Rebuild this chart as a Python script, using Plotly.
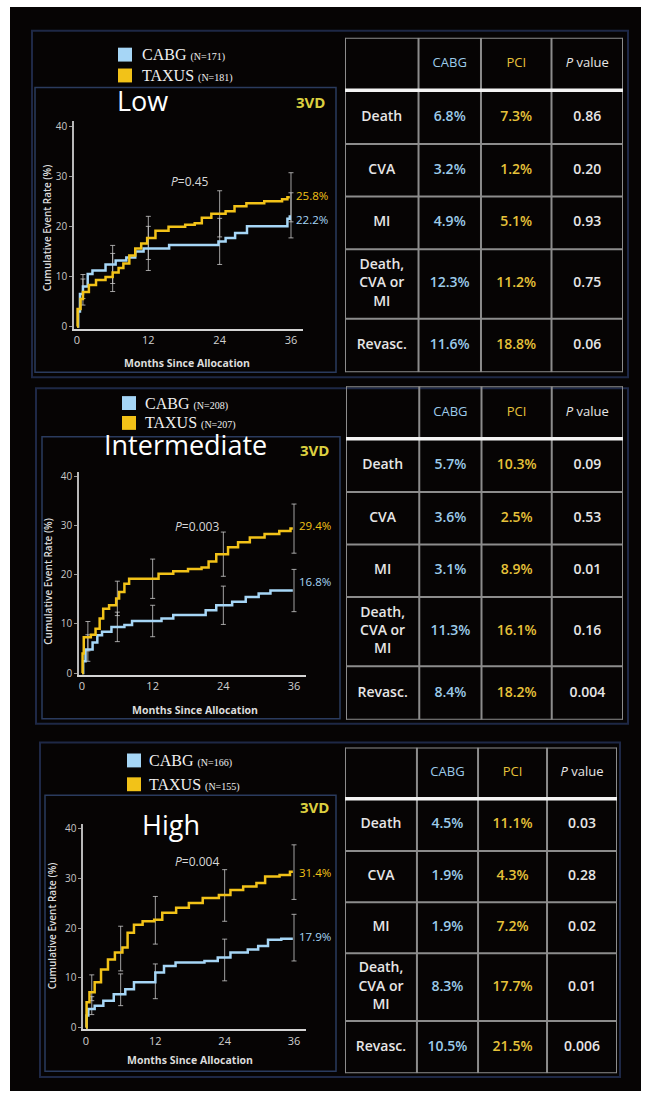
import plotly.graph_objects as go

W, H = 649, 1099

# ---------------- data ----------------
panel_names = ["Low", "Intermediate", "High"]
cabg_n = [171, 208, 166]
taxus_n = [181, 207, 155]
curve_p = ["0.45", "0.003", "0.004"]
x_ticks = [0, 12, 24, 36]
y_ticks = [0, 10, 20, 30, 40]

# Kaplan-Meier step points (months, cumulative event rate %)
low_cabg_m = [0, 0.2, 0.5, 1.0, 1.8, 2.6, 4.8, 6.5, 8.3, 9.8, 11.2, 15.5, 23.8, 25.0, 26.6, 28.6, 35.4, 35.8]
low_cabg_v = [0, 3.0, 6.5, 8.0, 10.5, 11.2, 12.4, 13.2, 13.8, 15.0, 15.6, 16.3, 17.0, 17.7, 18.7, 20.0, 21.5, 22.2]
low_taxus_m = [0, 0.1, 0.6, 1.0, 2.0, 3.2, 4.8, 6.0, 7.0, 7.8, 8.8, 9.8, 10.8, 11.8, 13.2, 15.4, 18.2,
               19.8, 21.0, 22.6, 25.0, 26.5, 28.5, 31.5, 34.5, 35.4, 35.8]
low_taxus_v = [0, 3.5, 5.5, 6.9, 8.3, 9.3, 9.9, 10.8, 11.7, 12.6, 14.2, 15.6, 16.6, 17.7, 19.1, 19.9, 20.3,
               20.6, 21.7, 22.5, 23.0, 24.0, 24.6, 25.0, 25.4, 25.8, 25.8]

int_cabg_m = [0, 0.2, 0.6, 1.8, 2.6, 3.4, 5.0, 7.2, 8.5, 13.5, 15.5, 21.0, 22.8, 25.5, 27.8, 30.0, 32.0, 35.8]
int_cabg_v = [0, 2.4, 4.8, 6.2, 7.7, 8.4, 9.4, 9.8, 10.6, 11.1, 11.8, 12.8, 13.8, 14.5, 15.5, 16.2, 16.8, 16.8]
int_taxus_m = [0, 0.1, 0.3, 1.5, 2.3, 3.0, 3.6, 4.6, 5.8, 6.3, 7.2, 8.0, 13.0, 15.5, 18.0, 20.3, 21.5,
               22.8, 24.8, 26.5, 28.5, 31.0, 33.5, 35.4, 35.8]
int_taxus_v = [0, 4.0, 7.3, 7.8, 9.0, 11.1, 13.1, 13.8, 15.2, 16.5, 18.2, 19.2, 20.2, 20.7, 21.2, 21.5, 22.7,
               24.2, 25.6, 26.6, 27.6, 28.3, 28.9, 29.4, 29.4]

high_cabg_m = [0, 0.1, 0.4, 1.5, 3.0, 4.8, 6.8, 8.3, 12.0, 13.5, 15.5, 20.5, 22.8, 25.0, 28.0, 29.8, 31.5,
               33.8, 35.8]
high_cabg_v = [0, 2.4, 3.7, 4.4, 5.4, 6.7, 7.7, 9.1, 11.1, 12.4, 13.1, 13.4, 14.1, 15.1, 15.7, 16.4, 17.7,
               17.9, 17.9]
high_taxus_m = [0, 0.1, 0.6, 1.5, 2.6, 3.8, 5.0, 6.3, 7.2, 8.3, 9.8, 11.8, 13.2, 15.6, 17.8, 20.2, 23.0,
                25.0, 27.2, 29.5, 31.0, 33.5, 35.3, 35.8]
high_taxus_v = [0, 5.1, 7.1, 9.1, 11.7, 13.7, 15.1, 16.1, 19.1, 20.7, 21.4, 21.7, 23.1, 24.1, 25.1, 26.1, 26.7,
                27.7, 28.4, 29.1, 30.4, 30.7, 31.4, 31.4]

# confidence intervals (centre, half-width) at these months
ci_months = [1, 6, 12, 24, 36]
low_cabg_ci = [8.0, 12.4, 15.6, 17.0, 22.2]
low_cabg_err = [2.4, 3.8, 4.4, 4.6, 4.5]
low_taxus_ci = [6.9, 10.8, 17.7, 22.5, 25.8]
low_taxus_err = [2.6, 3.8, 4.3, 4.6, 4.9]
int_cabg_ci = [5.1, 9.4, 10.6, 13.8, 16.8]
int_cabg_err = [2.7, 3.0, 3.2, 3.9, 4.3]
int_taxus_ci = [7.5, 15.2, 19.2, 24.2, 29.4]
int_taxus_err = [3.0, 3.5, 4.0, 4.5, 5.0]
high_cabg_ci = [4.4, 7.6, 9.3, 13.6, 18.1]
high_cabg_err = [1.8, 3.2, 3.5, 4.2, 4.7]
high_taxus_ci = [8.0, 15.9, 21.6, 26.6, 31.3]
high_taxus_err = [2.6, 4.5, 4.8, 5.2, 5.5]

cabg_final = [22.2, 16.8, 17.9]
taxus_final = [25.8, 29.4, 31.4]

# tables
table_header = ["", "CABG", "PCI", "<i>P</i> value"]
outcomes = ["Death", "CVA", "MI", "Death,<br>CVA or<br>MI", "Revasc."]
low_tab_cabg = [6.8, 3.2, 4.9, 12.3, 11.6]
low_tab_pci = [7.3, 1.2, 5.1, 11.2, 18.8]
low_tab_p = ["0.86", "0.20", "0.93", "0.75", "0.06"]
int_tab_cabg = [5.7, 3.6, 3.1, 11.3, 8.4]
int_tab_pci = [10.3, 2.5, 8.9, 16.1, 18.2]
int_tab_p = ["0.09", "0.53", "0.01", "0.16", "0.004"]
high_tab_cabg = [4.5, 1.9, 1.9, 8.3, 10.5]
high_tab_pci = [11.1, 4.3, 7.2, 17.7, 21.5]
high_tab_p = ["0.03", "0.28", "0.02", "0.01", "0.006"]

# ---------------- style / layout ----------------
BG = "#060404"
C_BLUE = "#a6d6f6"
C_GOLD = "#f2c218"
T_BLUE = "#9ccbea"
T_GOLD = "#e6c23a"
TXT = "#e6e6e6"
FONT = "Open Sans"

curves = [
    (low_cabg_m, low_cabg_v, low_taxus_m, low_taxus_v,
     low_cabg_ci, low_cabg_err, low_taxus_ci, low_taxus_err),
    (int_cabg_m, int_cabg_v, int_taxus_m, int_taxus_v,
     int_cabg_ci, int_cabg_err, int_taxus_ci, int_taxus_err),
    (high_cabg_m, high_cabg_v, high_taxus_m, high_taxus_v,
     high_cabg_ci, high_cabg_err, high_taxus_ci, high_taxus_err),
]
tables = [
    (low_tab_cabg, low_tab_pci, low_tab_p),
    (int_tab_cabg, int_tab_pci, int_tab_p),
    (high_tab_cabg, high_tab_pci, high_tab_p),
]

# pixel geometry: x of month 0, px per month, y of rate 0, px per unit
chart_geo = [(77, 5.944, 326, 5.05), (82, 5.889, 675, 4.95), (86, 5.778, 1032, 5.0)]
X_RANGE = [-0.5, 38]
Y_RANGE = [-0.4, 41]
ytitle_pos = [(47, 227), (48, 583), (52, 930)]
xtitle_pos = [(187, 363), (195, 712), (190, 1065)]
big_pos = [(142, 98), (185, 445), (171, 828)]
vd_pos = [(310, 100), (314, 450), (314, 810)]
legend_pos = [(125, 52, 73, 140), (129, 403, 423, 143), (134, 763, 787, 147)]
p_pos = [(19.0, 28.9), (19.5, 29.9), (19.2, 33.4)]
end_shift = [(2, -4), (3, 9), (-1, 2)]   # yshift px for (taxus, cabg) end labels
outer_frames = [(32, 28, 628, 377), (36, 388, 628, 726), (40, 745, 620, 1082)]
chart_boxes = [(35, 85, 336, 372), (42, 437, 340, 721), (45, 798, 336, 1076)]
table_boxes = [(345, 35, 623, 372), (346, 386, 623, 722), (345, 750, 617, 1078)]
col_w = [73, 62, 70, 71]
row_h = [53, 54, 53, 53, 70, 54]


def pxx(px):
    return px / W


def pxy(py):
    return 1 - py / H


def note(px, py, text, size, color, family=FONT, xanchor="center", angle=0, weight=None):
    f = dict(family=family, size=size, color=color)
    if weight:
        f["weight"] = weight
    return dict(x=pxx(px), y=pxy(py), xref="paper", yref="paper", showarrow=False,
                xanchor=xanchor, yanchor="middle", textangle=angle, text=text, font=f)


fig = go.Figure()
shapes = []
annotations = []
layout_axes = {}

shapes.append(dict(type="rect", xref="paper", yref="paper",
                   x0=pxx(10), x1=pxx(641), y0=pxy(4), y1=pxy(1096),
                   fillcolor=BG, line=dict(width=0), layer="below"))

for i in range(3):
    ca = 2 * i + 1
    ta = 2 * i + 2
    xa = "x" if ca == 1 else f"x{ca}"
    ya = "y" if ca == 1 else f"y{ca}"
    xt = f"x{ta}"
    yt = f"y{ta}"

    # frames
    fx0, fy0, fx1, fy1 = outer_frames[i]
    shapes.append(dict(type="rect", xref="paper", yref="paper", x0=pxx(fx0), x1=pxx(fx1),
                       y0=pxy(fy1), y1=pxy(fy0), line=dict(color="#1e2846", width=2), layer="below"))
    bx0, by0, bx1, by1 = chart_boxes[i]
    shapes.append(dict(type="rect", xref="paper", yref="paper", x0=pxx(bx0), x1=pxx(bx1),
                       y0=pxy(by1), y1=pxy(by0), line=dict(color="#2a3b5e", width=1.5), layer="below"))

    x0, xs, y0, ys = chart_geo[i]
    layout_axes["xaxis" if ca == 1 else f"xaxis{ca}"] = dict(
        domain=[pxx(x0 + X_RANGE[0] * xs), pxx(x0 + X_RANGE[1] * xs)],
        range=X_RANGE, anchor=ya, tickvals=x_ticks, ticks="", showline=True,
        linecolor="#d4d4d4", linewidth=2, showgrid=False, zeroline=False, fixedrange=True,
        tickfont=dict(family=FONT, size=11, color="#d0d0d0"))
    layout_axes["yaxis" if ca == 1 else f"yaxis{ca}"] = dict(
        domain=[pxy(y0 - Y_RANGE[0] * ys), pxy(y0 - Y_RANGE[1] * ys)],
        range=Y_RANGE, anchor=xa, tickvals=y_ticks, ticks="outside", ticklen=3,
        tickcolor="#999999", showline=True, linecolor="#b8b8b8", linewidth=1.5,
        showgrid=False, zeroline=False, fixedrange=True,
        tickfont=dict(family=FONT, size=10, color="#c8c8c8"))

    cm, cv, tm, tv, cci, cerr, tci, terr = curves[i]
    # error bars
    for ctr, err in ((cci, cerr), (tci, terr)):
        fig.add_trace(go.Scatter(x=ci_months, y=ctr, mode="markers", xaxis=xa, yaxis=ya,
                                 marker=dict(size=1, color="rgba(0,0,0,0)"),
                                 error_y=dict(type="data", array=err, visible=True,
                                              color="rgba(200,200,200,0.8)", thickness=1, width=2.5),
                                 showlegend=False, hoverinfo="skip"))
    fig.add_trace(go.Scatter(x=cm, y=cv, mode="lines", line=dict(color=C_BLUE, width=2.5, shape="hv"),
                             xaxis=xa, yaxis=ya, name="CABG", showlegend=False))
    fig.add_trace(go.Scatter(x=tm, y=tv, mode="lines", line=dict(color=C_GOLD, width=2.5, shape="hv"),
                             xaxis=xa, yaxis=ya, name="TAXUS", showlegend=False))

    # texts in chart
    px_, py_ = p_pos[i]
    annotations.append(dict(x=px_, y=py_, xref=xa, yref=ya, showarrow=False,
                            text="<i>P</i>=" + curve_p[i],
                            font=dict(family=FONT, size=12, color="#d8d8d8")))
    annotations.append(dict(x=36.5, y=taxus_final[i], xref=xa, yref=ya, showarrow=False,
                            xanchor="left", yshift=end_shift[i][0], text=f"{taxus_final[i]}%",
                            font=dict(family=FONT, size=11.5, color=C_GOLD)))
    annotations.append(dict(x=36.5, y=cabg_final[i], xref=xa, yref=ya, showarrow=False,
                            xanchor="left", yshift=end_shift[i][1], text=f"{cabg_final[i]}%",
                            font=dict(family=FONT, size=11.5, color=C_BLUE)))
    tx, ty = ytitle_pos[i]
    annotations.append(note(tx, ty, "Cumulative Event Rate (%)", 10, "#dcdcdc", angle=-90, weight=600))
    tx, ty = xtitle_pos[i]
    annotations.append(note(tx, ty, "<b>Months Since Allocation</b>", 10.5, "#dcdcdc"))
    tx, ty = big_pos[i]
    annotations.append(note(tx, ty, panel_names[i], 27, "#ffffff"))
    tx, ty = vd_pos[i]
    annotations.append(note(tx, ty, "<b>3VD</b>", 15, "#dcd040"))

    # legend
    lx, ly1, ly2, ltx = legend_pos[i]
    for ly, col, lab, n in ((ly1, C_BLUE, "CABG", cabg_n[i]), (ly2, C_GOLD, "TAXUS", taxus_n[i])):
        shapes.append(dict(type="rect", xref="paper", yref="paper",
                           x0=pxx(lx - 7), x1=pxx(lx + 7), y0=pxy(ly + 7), y1=pxy(ly - 7),
                           fillcolor=col, line=dict(width=0)))
        annotations.append(note(ltx, ly, f"{lab} <span style='font-size:10px'>(N={n})</span>",
                                16, "#f0f0f0", family="Liberation Serif", xanchor="left"))

    # table
    tx0, ty0, tx1, ty1 = table_boxes[i]
    tw = sum(col_w)
    th = sum(row_h)
    layout_axes[f"xaxis{ta}"] = dict(domain=[pxx(tx0), pxx(tx1)], range=[0, tw], anchor=yt,
                                     visible=False, fixedrange=True)
    layout_axes[f"yaxis{ta}"] = dict(domain=[pxy(ty1), pxy(ty0)], range=[th, 0], anchor=xt,
                                     visible=False, fixedrange=True)
    xe = [sum(col_w[:k]) for k in range(len(col_w) + 1)]
    ye = [sum(row_h[:k]) for k in range(len(row_h) + 1)]
    xc = [(xe[k] + xe[k + 1]) / 2 for k in range(len(col_w))]
    yc = [(ye[k] + ye[k + 1]) / 2 for k in range(len(row_h))]
    for xv in xe:
        shapes.append(dict(type="line", xref=xt, yref=yt, x0=xv, x1=xv, y0=0, y1=th,
                           line=dict(color="#8c8c8c", width=2)))
    for k, yv in enumerate(ye):
        if k == 1:
            continue
        shapes.append(dict(type="line", xref=xt, yref=yt, x0=0, x1=tw, y0=yv, y1=yv,
                           line=dict(color="#8c8c8c", width=2)))
    shapes.append(dict(type="line", xref=xt, yref=yt, x0=0, x1=tw, y0=ye[1], y1=ye[1],
                       line=dict(color="#f4f4f4", width=3.5)))

    tc, tp, tpv = tables[i]
    fig.add_trace(go.Scatter(x=xc, y=[yc[0]] * 4, mode="text", text=table_header, xaxis=xt, yaxis=yt,
                             textfont=dict(family=FONT, size=13, color=[TXT, T_BLUE, T_GOLD, TXT]),
                             showlegend=False, hoverinfo="skip"))
    body_cols = [
        (outcomes, TXT),
        ([f"{v:.1f}%" for v in tc], T_BLUE),
        ([f"{v:.1f}%" for v in tp], T_GOLD),
        (tpv, TXT),
    ]
    for k, (txts, colr) in enumerate(body_cols):
        fig.add_trace(go.Scatter(x=[xc[k]] * 5, y=yc[1:], mode="text", text=txts, xaxis=xt, yaxis=yt,
                                 textfont=dict(family=FONT, size=14, color=colr, weight=600),
                                 showlegend=False, hoverinfo="skip"))

fig.update_layout(
    width=W, height=H, margin=dict(l=0, r=0, t=0, b=0),
    paper_bgcolor="#ffffff", plot_bgcolor="rgba(0,0,0,0)",
    shapes=shapes, annotations=annotations, showlegend=False,
    **layout_axes)

fig.write_html("out.html", config={"displayModeBar": False},
               post_script="document.body.style.margin='0px';")
